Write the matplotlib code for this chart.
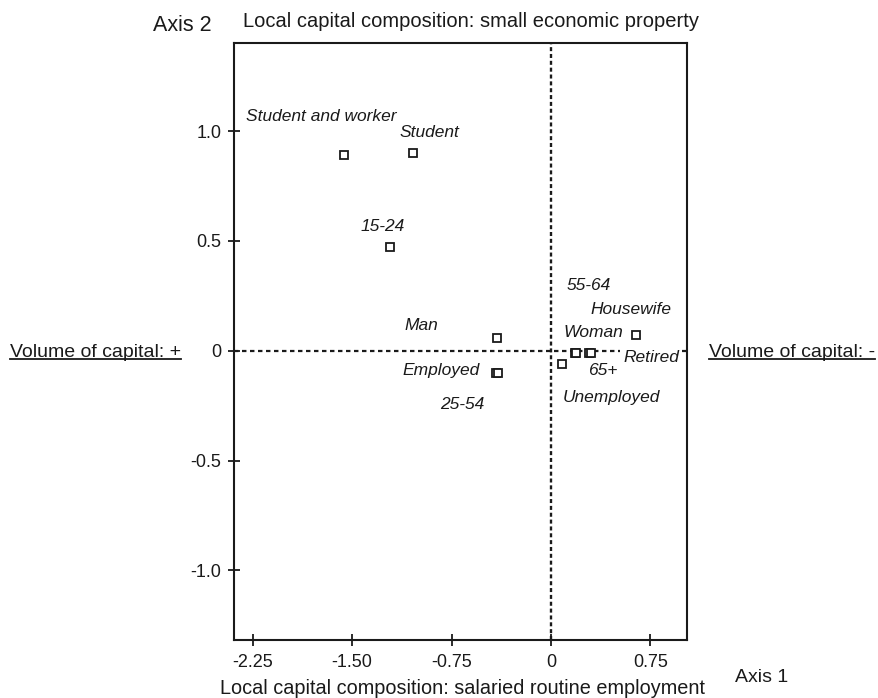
import matplotlib
matplotlib.use("Agg")
import matplotlib.pyplot as plt
from matplotlib.lines import Line2D

plt.rcParams['font.family'] = ['Liberation Sans', 'DejaVu Sans']

# Category coordinates on the first two factorial axes
categories = ["Student and worker", "Student", "15-24", "Man", "Employed", "25-54",
              "Woman", "55-64", "Retired", "65+", "Housewife", "Unemployed"]
axis1 = [-1.56, -1.04, -1.21, -0.41, -0.418, -0.402, 0.18, 0.19, 0.29, 0.30, 0.64, 0.08]
axis2 = [0.89, 0.90, 0.47, 0.06, -0.10, -0.10, -0.01, -0.01, -0.01, -0.01, 0.07, -0.06]

xticks = [-2.25, -1.50, -0.75, 0, 0.75]
xtick_labels = ["-2.25", "-1.50", "-0.75", "0", "0.75"]
yticks = [-1.0, -0.5, 0, 0.5, 1.0]
ytick_labels = ["-1.0", "-0.5", "0", "0.5", "1.0"]

# label offsets (points) relative to each marker
label_offsets = [(-16.6, 27.6), (11.8, 14.7), (-5.9, 15.1), (-54.4, 8.4), (-38.9, 1.7),
                 (-25.4, -22.8), (13.5, 14.8), (9.1, 48.2), (44.3, -3.3), (8.8, -12.5),
                 (-3.8, 18.7), (36.1, -24.0)]

ink = "#1a1a1a"
fig = plt.figure(figsize=(8.79, 6.98), dpi=100)
ax = fig.add_axes([0.2662, 0.0824, 0.515, 0.8564])
ax.set_xlim(-2.39, 1.023)
ax.set_ylim(-1.319, 1.402)

for s in ax.spines.values():
    s.set_linewidth(1.5)
    s.set_color(ink)

ax.axvline(0, color=ink, lw=1.7, ls=(0, (1.7, 1.2)), zorder=1)
ax.axhline(0, color=ink, lw=1.6, ls=(0, (2.0, 1.6)), zorder=1)

ax.plot(axis1, axis2, ls='none', marker='s', markersize=6.2, markerfacecolor='white',
        markeredgecolor=ink, markeredgewidth=1.3, zorder=3)

for name, x, y, off in zip(categories, axis1, axis2, label_offsets):
    kw = {}
    if name == "Retired":
        kw['bbox'] = dict(facecolor='white', edgecolor='none', pad=2.5)
    ax.annotate(name, (x, y), xytext=off, textcoords='offset points',
                ha='center', va='center', fontsize=12.5, style='italic',
                color=ink, zorder=4, **kw)

ax.set_xticks(xticks)
ax.set_xticklabels(xtick_labels)
ax.set_yticks(yticks)
ax.set_yticklabels(ytick_labels)
ax.tick_params(axis='x', direction='inout', length=9, width=1.3, pad=5,
               labelsize=13, colors=ink)
ax.tick_params(axis='y', direction='inout', length=8, width=1.3, pad=5,
               labelsize=13, colors=ink)

fig.text(0.207, 0.964, "Axis 2", ha='center', va='center', fontsize=15.5, color=ink)
fig.text(0.536, 0.969, "Local capital composition: small economic property",
         ha='center', va='center', fontsize=14.5, color=ink)
fig.text(0.5256, 0.0143, "Local capital composition: salaried routine employment",
         ha='center', va='center', fontsize=14.3, color=ink)
fig.text(0.867, 0.030, "Axis 1", ha='center', va='center', fontsize=14, color=ink)

side_left = fig.text(0.0114, 0.4947, "Volume of capital: +", ha='left', va='center',
                     fontsize=14, color=ink)
side_right = fig.text(0.8066, 0.4947, "Volume of capital: -", ha='left', va='center',
                      fontsize=14, color=ink)

# underline the two side captions
fig.canvas.draw()
renderer = fig.canvas.get_renderer()
inv = fig.transFigure.inverted()
for t in (side_left, side_right):
    bb = t.get_window_extent(renderer)
    (x0, y0), (x1, y1) = inv.transform([(bb.x0, bb.y0), (bb.x1, bb.y1)])
    yline = y0 + 0.1 * (y1 - y0)
    fig.add_artist(Line2D([x0, x1], [yline, yline], transform=fig.transFigure,
                          color=ink, lw=1.3))

fig.savefig("out.png", dpi=100)
